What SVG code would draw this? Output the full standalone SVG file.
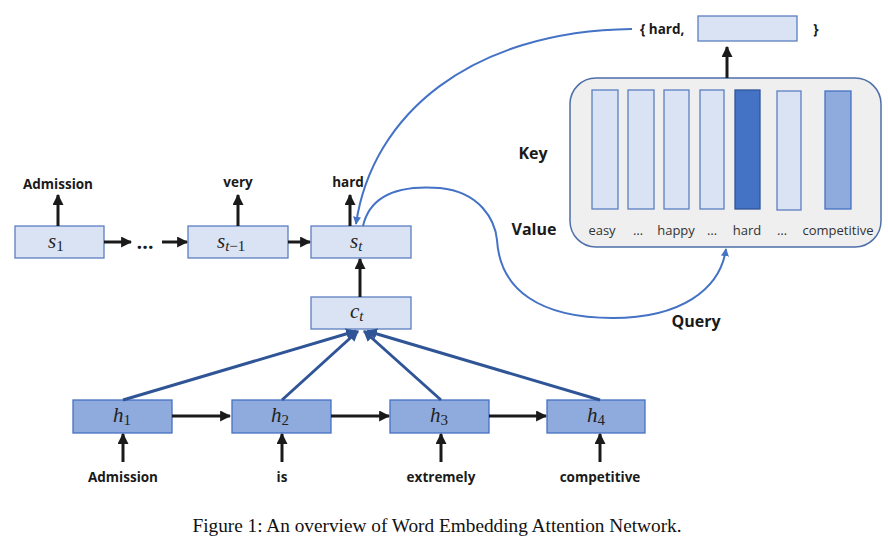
<svg xmlns="http://www.w3.org/2000/svg" width="888" height="538" viewBox="0 0 888 538">
<defs>
<marker id="ab" viewBox="0 0 10 10" refX="9" refY="5" markerWidth="11" markerHeight="11" markerUnits="userSpaceOnUse" orient="auto"><path d="M0,0 L10,5 L0,10 z" fill="#1a1a1a"/></marker>
<marker id="abl" viewBox="0 0 10 10" refX="9" refY="5" markerWidth="11" markerHeight="11" markerUnits="userSpaceOnUse" orient="auto"><path d="M0,0 L10,5 L0,10 z" fill="#2f5597"/></marker>
<marker id="ac" viewBox="0 0 10 10" refX="9" refY="5" markerWidth="8" markerHeight="8" markerUnits="userSpaceOnUse" orient="auto"><path d="M0,0 L10,5 L0,10 z" fill="#4472c4"/></marker>
</defs>
<style>
.lb{fill:#dae3f3;stroke:#5b7fc0;stroke-width:1.3}
.hb{fill:#8faadc;stroke:#4472c4;stroke-width:1.3}
.m{font-family:"Liberation Serif",serif;font-style:italic;font-size:21px;fill:#222}
.sub{font-size:15px}
.w{font-family:"Open Sans","Liberation Sans",sans-serif;font-weight:bold;font-size:13.5px;fill:#1a1a1a;text-anchor:middle}
.k{font-family:"Open Sans","Liberation Sans",sans-serif;font-weight:bold;font-size:16px;fill:#1a1a1a;text-anchor:middle}
.bl{font-family:"Open Sans","Liberation Sans",sans-serif;font-size:13px;fill:#333;text-anchor:middle}
.blk{stroke:#1a1a1a;stroke-width:3;fill:none}
.att{stroke:#2f5597;stroke-width:3;fill:none}
.cur{stroke:#4472c4;stroke-width:2;fill:none}
</style>
<rect width="888" height="538" fill="#ffffff"/>

<g id="memory">
<rect x="570" y="78" width="311" height="169" rx="26" fill="#efefef" stroke="#4e6fa8" stroke-width="1.5"/>
<rect x="592" y="90" width="26" height="119" class="lb"/>
<rect x="628" y="90" width="26" height="119" class="lb"/>
<rect x="664" y="90" width="25" height="119" class="lb"/>
<rect x="700" y="90" width="24" height="119" class="lb"/>
<rect x="735" y="90" width="25" height="119" fill="#4472c4" stroke="#2f5597" stroke-width="1.3"/>
<rect x="777" y="91" width="24" height="119" class="lb"/>
<rect x="825" y="91" width="26" height="118" class="hb"/>
<text x="602" y="235" class="bl">easy</text>
<text x="638" y="235" class="bl">…</text>
<text x="676" y="235" class="bl">happy</text>
<text x="712" y="235" class="bl">…</text>
<text x="747" y="235" class="bl">hard</text>
<text x="782" y="235" class="bl">…</text>
<text x="838" y="235" class="bl">competitive</text>
</g>
<g id="keylabels">
<text x="533" y="159" class="k">Key</text>
<text x="534" y="235" class="k">Value</text>
<text x="696" y="327" class="k">Query</text>
</g>
<g id="output">
<text x="640" y="34" class="w" style="text-anchor:start">{ hard,</text>
<rect x="698" y="16" width="99" height="25" class="lb"/>
<text x="816" y="34" class="w">}</text>
</g>

<g id="s1"><rect x="15" y="226" width="89" height="32" class="lb"/><text x="48" y="248" class="m">s<tspan class="sub" font-style="normal" dy="3">1</tspan></text></g>
<g id="st1"><rect x="188" y="226" width="100" height="32" class="lb"/><text x="217" y="248" class="m">s<tspan class="sub" dy="3">t</tspan><tspan class="sub" font-style="normal">−1</tspan></text></g>
<g id="st"><rect x="311" y="226" width="100" height="32" class="lb"/><text x="350" y="248" class="m">s<tspan class="sub" dy="3">t</tspan></text></g>
<g id="ct"><rect x="311" y="297" width="100" height="32" class="lb"/><text x="350" y="318" class="m">c<tspan class="sub" dy="3">t</tspan></text></g>
<g id="h1"><rect x="73" y="400" width="99" height="33" class="hb"/><text x="113" y="422" class="m">h<tspan class="sub" font-style="normal" dy="3">1</tspan></text></g>
<g id="h2"><rect x="232" y="400" width="99" height="33" class="hb"/><text x="271" y="422" class="m">h<tspan class="sub" font-style="normal" dy="3">2</tspan></text></g>
<g id="h3"><rect x="390" y="400" width="99" height="33" class="hb"/><text x="430" y="422" class="m">h<tspan class="sub" font-style="normal" dy="3">3</tspan></text></g>
<g id="h4"><rect x="547" y="400" width="98" height="33" class="hb"/><text x="587" y="422" class="m">h<tspan class="sub" font-style="normal" dy="3">4</tspan></text></g>

<g id="words">
<text x="58" y="189" class="w">Admission</text>
<text x="238" y="187" class="w">very</text>
<text x="348" y="187" class="w">hard</text>
<text x="123" y="482" class="w">Admission</text>
<text x="282" y="482" class="w">is</text>
<text x="441" y="482" class="w">extremely</text>
<text x="600" y="482" class="w">competitive</text>
<text x="145" y="249" class="w" style="font-size:20px">…</text>
</g>

<g id="connectors">
<line x1="58" y1="226" x2="58" y2="195" class="blk" marker-end="url(#ab)"/>
<line x1="238" y1="226" x2="238" y2="195" class="blk" marker-end="url(#ab)"/>
<line x1="350" y1="226" x2="350" y2="195" class="blk" marker-end="url(#ab)"/>
<line x1="104" y1="242" x2="131" y2="242" class="blk" marker-end="url(#ab)"/>
<line x1="162" y1="242" x2="187" y2="242" class="blk" marker-end="url(#ab)"/>
<line x1="288" y1="242" x2="310" y2="242" class="blk" marker-end="url(#ab)"/>
<line x1="360" y1="297" x2="360" y2="259" class="blk" marker-end="url(#ab)"/>
<line x1="727" y1="78" x2="727" y2="47" class="blk" marker-end="url(#ab)"/>
<line x1="172" y1="416" x2="230" y2="416" class="blk" marker-end="url(#ab)"/>
<line x1="331" y1="416" x2="389" y2="416" class="blk" marker-end="url(#ab)"/>
<line x1="489" y1="416" x2="546" y2="416" class="blk" marker-end="url(#ab)"/>
<line x1="123" y1="462" x2="123" y2="434" class="blk" marker-end="url(#ab)"/>
<line x1="282" y1="462" x2="282" y2="434" class="blk" marker-end="url(#ab)"/>
<line x1="441" y1="462" x2="441" y2="434" class="blk" marker-end="url(#ab)"/>
<line x1="600" y1="462" x2="600" y2="434" class="blk" marker-end="url(#ab)"/>
<line x1="123" y1="400" x2="356" y2="331" class="att" marker-end="url(#abl)"/>
<line x1="282" y1="400" x2="358" y2="331" class="att" marker-end="url(#abl)"/>
<line x1="441" y1="400" x2="364" y2="331" class="att" marker-end="url(#abl)"/>
<line x1="600" y1="400" x2="367" y2="331" class="att" marker-end="url(#abl)"/>
<path d="M632,29 C470,31 372,115 356,224" class="cur" marker-end="url(#ac)"/>
<path d="M363,226 C370,195 400,185 440,188 C480,192 495,220 497,240 C500,290 540,318 613,318 C680,318 720,290 726,249" class="cur" marker-end="url(#ac)"/>
</g>

<text x="437" y="532" text-anchor="middle" font-family="Liberation Serif, serif" font-size="19.3" fill="#111">Figure 1: An overview of Word Embedding Attention Network.</text>
</svg>
